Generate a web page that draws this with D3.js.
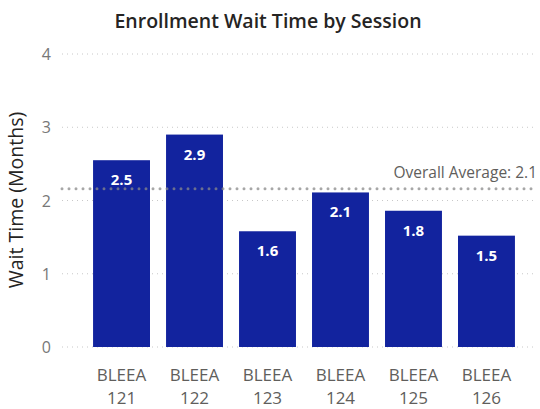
<!DOCTYPE html>
<html><head><meta charset="utf-8">
<script src="https://cdn.jsdelivr.net/npm/d3@7"></script>
<style>body{margin:0;background:#fff;font-family:"Open Sans","Segoe UI",sans-serif;}</style>
</head><body><svg id="c" width="540" height="409"></svg>
<script>
const categories = ["BLEEA 121","BLEEA 122","BLEEA 123","BLEEA 124","BLEEA 125","BLEEA 126"];
const values = [2.55, 2.9, 1.58, 2.11, 1.86, 1.52];
const labels = ["2.5","2.9","1.6","2.1","1.8","1.5"];
const yTicks = [0,1,2,3,4];
const averageValue = 2.16;
const averageLabel = "Overall Average: 2.1";

const svg = d3.select("#c");
const y = d3.scaleLinear().domain([0,4]).range([347,54]);
const x = d3.scaleBand().domain(categories).range([77,531]).paddingInner(0.22).paddingOuter(0.22);

svg.append("text").attr("x",268).attr("y",28).attr("text-anchor","middle")
  .attr("font-size",19.5).attr("font-weight",600).attr("fill","#252423")
  .text("Enrollment Wait Time by Session");

// grid
svg.append("g").selectAll("line").data(yTicks).join("line")
  .attr("x1",62).attr("x2",536).attr("y1",d=>y(d)).attr("y2",d=>y(d))
  .attr("stroke","#c8c8c8").attr("stroke-width",1).attr("stroke-dasharray","1,4");
svg.append("g").selectAll("text").data(yTicks).join("text")
  .attr("x",51).attr("y",d=>y(d)+6).attr("text-anchor","end")
  .attr("font-size",16).attr("fill","#777").text(d=>d);

svg.append("text").attr("transform","translate(23,200) rotate(-90)").attr("text-anchor","middle")
  .attr("font-size",19.5).attr("fill","#252423").text("Wait Time (Months)");

// bars
svg.append("g").selectAll("rect").data(values).join("rect")
  .attr("x",(d,i)=>x(categories[i])).attr("width",x.bandwidth())
  .attr("y",d=>y(d)).attr("height",d=>y(0)-y(d)).attr("fill","#12239E");

svg.append("g").selectAll("text").data(values).join("text")
  .attr("x",(d,i)=>x(categories[i])+x.bandwidth()/2).attr("y",d=>y(d)+25)
  .attr("text-anchor","middle").attr("font-size",15).attr("font-weight",700).attr("fill","#fff")
  .text((d,i)=>labels[i]);

// average line
svg.append("line").attr("x1",62).attr("x2",536).attr("y1",y(averageValue)).attr("y2",y(averageValue))
  .attr("stroke","#8a8a8a").attr("stroke-opacity",0.75).attr("stroke-width",3)
  .attr("stroke-linecap","round").attr("stroke-dasharray","0,7");
svg.append("text").attr("x",537).attr("y",y(averageValue)-11).attr("text-anchor","end")
  .attr("font-size",15.5).attr("fill","#605E5C").text(averageLabel);

// x labels
const xl = svg.append("g").selectAll("text").data(categories).join("text")
  .attr("text-anchor","middle").attr("font-size",17).attr("fill","#605E5C");
xl.append("tspan").attr("x",d=>x(d)+x.bandwidth()/2).attr("y",381).text(d=>d.split(" ")[0]);
xl.append("tspan").attr("x",d=>x(d)+x.bandwidth()/2).attr("y",404).text(d=>d.split(" ")[1]);
</script></body></html>
